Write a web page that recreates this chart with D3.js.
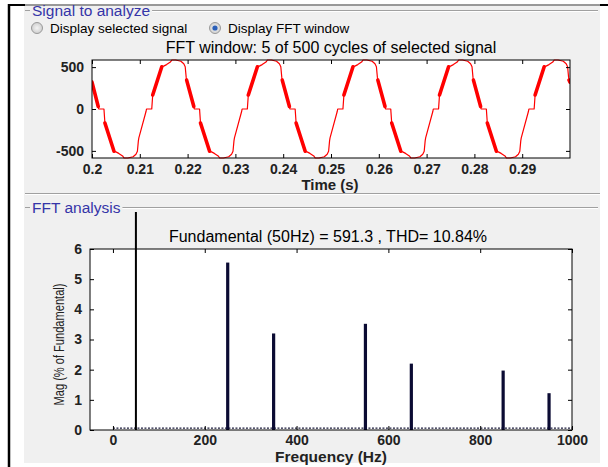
<!DOCTYPE html>
<html><head><meta charset="utf-8">
<script src="https://cdn.jsdelivr.net/npm/d3@7"></script>
<style>body{margin:0;background:#fff}svg{display:block}text{font-family:"Liberation Sans",Arial,sans-serif}</style>
</head><body><svg id="c" width="608" height="467"></svg>
<script>
// ---- data ----
const timeTicks = [0.2,0.21,0.22,0.23,0.24,0.25,0.26,0.27,0.28,0.29];
const timeTickLabels = ["0.2","0.21","0.22","0.23","0.24","0.25","0.26","0.27","0.28","0.29"];
const signalTicks = [-500,0,500];
// signal samples (s, value); burst = 1 where the segment starting at that sample is a switching burst
const signalT = [
 .2000,.2013,
 .2014,.2025,.2027,.2046,.2050,.2056,.2064,.2067,.2075,.2086,.2092,.2095,.2097,.2098,.2113,
 .2114,.2125,.2127,.2146,.2150,.2156,.2164,.2167,.2175,.2186,.2192,.2195,.2197,.2198,.2213,
 .2214,.2225,.2227,.2246,.2250,.2256,.2264,.2267,.2275,.2286,.2292,.2295,.2297,.2298,.2313,
 .2314,.2325,.2327,.2346,.2350,.2356,.2364,.2367,.2375,.2386,.2392,.2395,.2397,.2398,.2413,
 .2414,.2425,.2427,.2446,.2450,.2456,.2464,.2467,.2475,.2486,.2492,.2495,.2497,.2498,.2513,
 .2514,.2525,.2527,.2546,.2550,.2556,.2564,.2567,.2575,.2586,.2592,.2595,.2597,.2598,.2613,
 .2614,.2625,.2627,.2646,.2650,.2656,.2664,.2667,.2675,.2686,.2692,.2695,.2697,.2698,.2713,
 .2714,.2725,.2727,.2746,.2750,.2756,.2764,.2767,.2775,.2786,.2792,.2795,.2797,.2798,.2813,
 .2814,.2825,.2827,.2846,.2850,.2856,.2864,.2867,.2875,.2886,.2892,.2895,.2897,.2898,.2913,
 .2914,.2925,.2927,.2946,.2950,.2956,.2964,.2967,.2975,.2986,.2992,.2995,.2997,.2998,.3000];
const signalV = [
 320,30,
 0,0,-167,-504,-512,-530,-560,-585,-585,-570,-540,-504,-380,-345,-30,
 0,0,167,504,512,530,560,585,585,570,540,504,380,345,30,
 0,0,-167,-504,-512,-530,-560,-585,-585,-570,-540,-504,-380,-345,-30,
 0,0,167,504,512,530,560,585,585,570,540,504,380,345,30,
 0,0,-167,-504,-512,-530,-560,-585,-585,-570,-540,-504,-380,-345,-30,
 0,0,167,504,512,530,560,585,585,570,540,504,380,345,30,
 0,0,-167,-504,-512,-530,-560,-585,-585,-570,-540,-504,-380,-345,-30,
 0,0,167,504,512,530,560,585,585,570,540,504,380,345,30,
 0,0,-167,-504,-512,-530,-560,-585,-585,-570,-540,-504,-380,-345,-30,
 0,0,167,504,512,530,560,585,585,570,540,504,380,345,320];
const signalBurst = [
 1,0,
 0,0,1,0,0,0,0,0,0,0,0,0,0,0,0,
 0,0,1,0,0,0,0,0,0,0,0,0,0,1,0,
 0,0,1,0,0,0,0,0,0,0,0,0,0,0,0,
 0,0,1,0,0,0,0,0,0,0,0,0,0,1,0,
 0,0,1,0,0,0,0,0,0,0,0,0,0,0,0,
 0,0,1,0,0,0,0,0,0,0,0,0,0,1,0,
 0,0,1,0,0,0,0,0,0,0,0,0,0,0,0,
 0,0,1,0,0,0,0,0,0,0,0,0,0,1,0,
 0,0,1,0,0,0,0,0,0,0,0,0,0,0,0,
 0,0,1,0,0,0,0,0,0,0,0,0,0,1,0];

const harmFreq = [50, 250, 350, 550, 650, 850, 950];
const harmMag  = [100, 5.55, 3.2, 3.52, 2.2, 1.97, 1.22];
const noiseFloorMag = 0.06;
const freqTicks = [0,200,400,600,800,1000];
const magTicks = [0,1,2,3,4,5,6];

const titleTop = "FFT window: 5 of 500 cycles of selected signal";
const titleBottom = "Fundamental (50Hz) = 591.3 , THD= 10.84%";

// ---- drawing ----
const svg = d3.select("#c");
const FONT = "'Liberation Sans',Arial,sans-serif";
// outer frame
svg.append("rect").attr("x",24).attr("y",6).attr("width",576).attr("height",457).attr("fill","#f0f0f0");
svg.append("line").attr("x1",8).attr("x2",608).attr("y1",5).attr("y2",5).attr("stroke","#333").attr("stroke-width",1);
svg.append("line").attr("x1",8).attr("x2",25).attr("y1",5).attr("y2",5).attr("stroke","#000").attr("stroke-width",2);
svg.append("line").attr("x1",600).attr("x2",608).attr("y1",5).attr("y2",5).attr("stroke","#000").attr("stroke-width",2);
svg.append("line").attr("x1",9).attr("x2",9).attr("y1",4).attr("y2",467).attr("stroke","#000").attr("stroke-width",2.5);

// group boxes
function groupBox(y, label){
  svg.append("line").attr("x1",25).attr("x2",30).attr("y1",y).attr("y2",y).attr("stroke","#a0a0a0");
  const t = svg.append("text").attr("x",32).attr("y",y+5).attr("font-size",15.5).attr("fill","#3535a8").text(label);
  const w = t.node().getComputedTextLength();
  svg.append("line").attr("x1",34+w).attr("x2",598).attr("y1",y).attr("y2",y).attr("stroke","#a0a0a0");
  svg.append("line").attr("x1",34+w).attr("x2",598).attr("y1",y+1).attr("y2",y+1).attr("stroke","#fff");
}
groupBox(10.5,"Signal to analyze");
svg.append("line").attr("x1",25).attr("x2",600).attr("y1",193.5).attr("y2",193.5).attr("stroke","#a0a0a0");
svg.append("line").attr("x1",25).attr("x2",600).attr("y1",194.5).attr("y2",194.5).attr("stroke","#fff");
groupBox(207.5,"FFT analysis");

// radio buttons
const grad = svg.append("defs").append("radialGradient").attr("id","rg");
grad.append("stop").attr("offset","0%").attr("stop-color","#f4f4f4");
grad.append("stop").attr("offset","100%").attr("stop-color","#cfcfcf");
[[37,"Display selected signal",false],[215,"Display FFT window",true]].forEach(([x,t,sel])=>{
  svg.append("circle").attr("cx",x).attr("cy",28).attr("r",5.5).attr("fill","url(#rg)").attr("stroke","#9a9a9a");
  if(sel) svg.append("circle").attr("cx",x).attr("cy",28).attr("r",2.6).attr("fill","#2a5fb8");
  svg.append("text").attr("x",x+13).attr("y",32.5).attr("font-size",13.5).attr("fill","#000").text(t);
});

// ---- top plot ----
const T = {l:92,r:570,t:60,b:158};
const xT = d3.scaleLinear().domain([0.2,0.3]).range([T.l,T.r]);
const yT = d3.scaleLinear().domain([-585,585]).range([T.b,T.t]);
svg.append("text").attr("x",331).attr("y",52.5).attr("text-anchor","middle").attr("font-size",16).text(titleTop);
svg.append("rect").attr("x",T.l).attr("y",T.t).attr("width",T.r-T.l).attr("height",T.b-T.t).attr("fill","#fff");
svg.append("clipPath").attr("id","cpT").append("rect").attr("x",T.l).attr("y",T.t-1).attr("width",T.r-T.l).attr("height",T.b-T.t+2);
const pts = signalT.map((t,i)=>[t,signalV[i]]);
const lineT = d3.line().x(d=>xT(d[0])).y(d=>yT(d[1]));
const gSig = svg.append("g").attr("clip-path","url(#cpT)");
gSig.append("path").attr("d",lineT(pts)).attr("fill","none").attr("stroke","#ff0000").attr("stroke-width",1.2).attr("stroke-linejoin","round");
const bursts = [];
for(let i=0;i<pts.length-1;i++) if(signalBurst[i]) bursts.push([pts[i],pts[i+1]]);
gSig.selectAll("path.burst").data(bursts).join("path").attr("class","burst").attr("d",d=>lineT(d))
  .attr("fill","none").attr("stroke","#ff0000").attr("stroke-width",3.6).attr("stroke-linecap","round");

function axesBox(box, xs, ys, xt, xl, yt, xpad){
  const ax = d3.axisBottom(xs).tickValues(xt).tickFormat((d,i)=>xl[i]).tickSizeInner(-4).tickSizeOuter(0).tickPadding(xpad);
  const g1 = svg.append("g").attr("transform",`translate(0,${box.b})`).call(ax);
  const g2 = svg.append("g").attr("transform",`translate(0,${box.t})`).call(d3.axisTop(xs).tickValues(xt).tickFormat("").tickSizeInner(-4).tickSizeOuter(0));
  const g3 = svg.append("g").attr("transform",`translate(${box.l},0)`).call(d3.axisLeft(ys).tickValues(yt).tickFormat(d=>String(d)).tickSizeInner(-4).tickSizeOuter(0).tickPadding(8));
  const g4 = svg.append("g").attr("transform",`translate(${box.r},0)`).call(d3.axisRight(ys).tickValues(yt).tickFormat("").tickSizeInner(-4).tickSizeOuter(0));
  [g1,g2,g3,g4].forEach(g=>{g.select(".domain").remove(); g.selectAll("line").attr("stroke","#000");
    g.selectAll("text").attr("font-size",14).attr("font-weight","bold").attr("fill","#222").attr("font-family",FONT);});
  svg.append("rect").attr("x",box.l).attr("y",box.t).attr("width",box.r-box.l).attr("height",box.b-box.t).attr("fill","none").attr("stroke","#000").attr("stroke-width",1);
}
axesBox(T,xT,yT,timeTicks,timeTickLabels,signalTicks,6);
svg.append("text").attr("x",330).attr("y",190).attr("text-anchor","middle").attr("font-size",15).attr("font-weight","bold").attr("fill","#222").text("Time (s)");

// ---- bottom plot ----
const B = {l:90,r:572,t:249,b:430};
const xB = d3.scaleLinear().domain([-50,1000]).range([B.l,B.r]);
const yB = d3.scaleLinear().domain([0,6]).range([B.b,B.t]);
svg.append("text").attr("x",328).attr("y",242).attr("text-anchor","middle").attr("font-size",16).text(titleBottom);
svg.append("rect").attr("x",B.l).attr("y",B.t).attr("width",B.r-B.l).attr("height",B.b-B.t).attr("fill","#fff");
svg.append("clipPath").attr("id","cpB").append("rect").attr("x",B.l).attr("y",212).attr("width",B.r-B.l).attr("height",B.b-212);
const gB = svg.append("g").attr("clip-path","url(#cpB)");
gB.append("line").attr("x1",xB(0)).attr("x2",xB(1000)).attr("y1",yB(noiseFloorMag)).attr("y2",yB(noiseFloorMag))
  .attr("stroke","#1a1a3a").attr("stroke-width",1.3).attr("stroke-dasharray","2,1.5");
gB.selectAll("rect.bar").data(harmFreq.map((f,i)=>({f,m:harmMag[i],i}))).join("rect").attr("class","bar")
  .attr("x",d=>xB(d.f)-(d.i===0?1:1.6)).attr("width",d=>d.i===0?2:3.2)
  .attr("y",d=>yB(d.m)).attr("height",d=>yB(0)-yB(d.m))
  .attr("fill",d=>d.i===0?"#000":"#0b0b33");
axesBox(B,xB,yB,freqTicks,freqTicks.map(String),magTicks,5);
svg.append("text").attr("x",331).attr("y",461.5).attr("text-anchor","middle").attr("font-size",15.5).attr("font-weight","bold").attr("fill","#222").text("Frequency (Hz)");
svg.append("text").attr("transform","translate(63.5,344.5) rotate(-90)").attr("text-anchor","middle").attr("font-size",15)
  .attr("textLength",122).attr("lengthAdjust","spacingAndGlyphs").attr("fill","#222").text("Mag (% of Fundamental)");
</script></body></html>
